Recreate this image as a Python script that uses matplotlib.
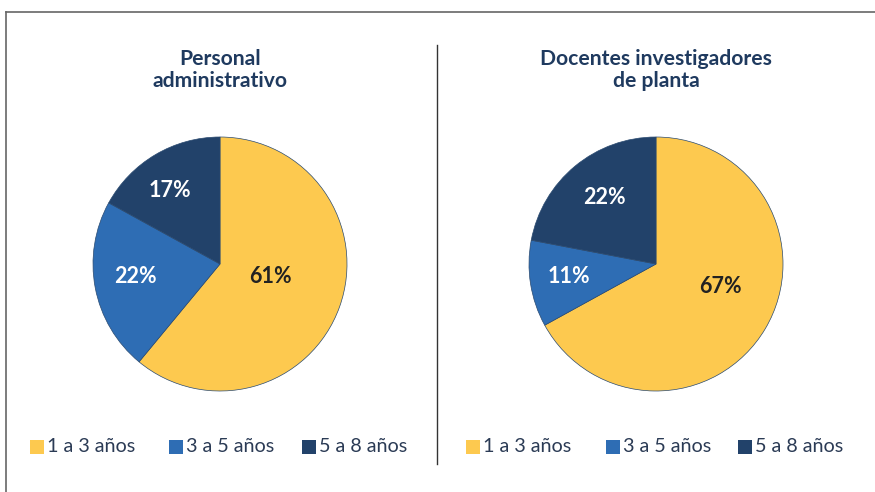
import matplotlib
matplotlib.use("Agg")
import matplotlib.pyplot as plt
from matplotlib.patches import Rectangle
from matplotlib.lines import Line2D
import numpy as np

categories = ["1 a 3 años", "3 a 5 años", "5 a 8 años"]
titles = ["Personal\nadministrativo", "Docentes investigadores\nde planta"]
admin_values = [61, 22, 17]
docentes_values = [67, 11, 22]
series = [admin_values, docentes_values]

colors = ["#FDC94F", "#2E6DB4", "#22426A"]
label_colors = ["#222222", "white", "white"]
# label placement (polar: angle in degrees, radius as fraction of pie radius)
label_angles = [[-14, 188.5, 124.4], [-19.5, 188, 127.7]]
label_radii = [[0.41, 0.67, 0.70], [0.54, 0.69, 0.66]]
title_color = "#1F3A5F"
legend_text_color = "#2B3B55"

W, H = 875, 492
fig = plt.figure(figsize=(W / 100, H / 100), dpi=100)
fig.patch.set_facecolor("white")

centers = [(220, 264), (656, 264)]
R = 127

for i, (vals, (cx, cy)) in enumerate(zip(series, centers)):
    ax = fig.add_axes([(cx - R) / W, (H - cy - R) / H, 2 * R / W, 2 * R / H])
    wedges, _ = ax.pie(vals, colors=colors, startangle=90, counterclock=False,
                       radius=1.0, wedgeprops=dict(edgecolor="#2A4A70", linewidth=0.5))
    for v, a, r, lc in zip(vals, label_angles[i], label_radii[i], label_colors):
        ang = np.deg2rad(a)
        ax.text(r * np.cos(ang), r * np.sin(ang), f"{v}%", ha="center", va="center",
                fontsize=15.5, fontweight="bold", color=lc, family="Lato")
    ax.set_xlim(-1.0, 1.0)
    ax.set_ylim(-1.0, 1.0)
    ax.set_aspect("equal")
    ax.axis("off")
    fig.text(cx / W, 1 - 70 / H, titles[i], ha="center", va="center", fontsize=15.2,
             fontweight="bold", color=title_color, family="Lato", linespacing=1.15)

# legends
legend_x = [[30, 169, 302], [466, 606, 738]]
legend_y = 447
for row in legend_x:
    for x, c, lab in zip(row, colors, categories):
        fig.patches.append(Rectangle((x / W, (H - legend_y - 7) / H), 14 / W, 14 / H,
                                     transform=fig.transFigure, facecolor=c, edgecolor="none"))
        fig.text((x + 17) / W, 1 - legend_y / H, lab, ha="left", va="center",
                 fontsize=14.2, color=legend_text_color, family="Lato")

# frame lines
fig.add_artist(Line2D([6 / W, 6 / W], [0, 1 - 12 / H], color="#666666", lw=1.2, transform=fig.transFigure))
fig.add_artist(Line2D([6 / W, 1], [1 - 12 / H, 1 - 12 / H], color="#666666", lw=1.2, transform=fig.transFigure))
fig.add_artist(Line2D([437 / W, 437 / W], [1 - 45 / H, 1 - 464 / H], color="#333333", lw=1.0, transform=fig.transFigure))

fig.savefig("out.png", dpi=100)
